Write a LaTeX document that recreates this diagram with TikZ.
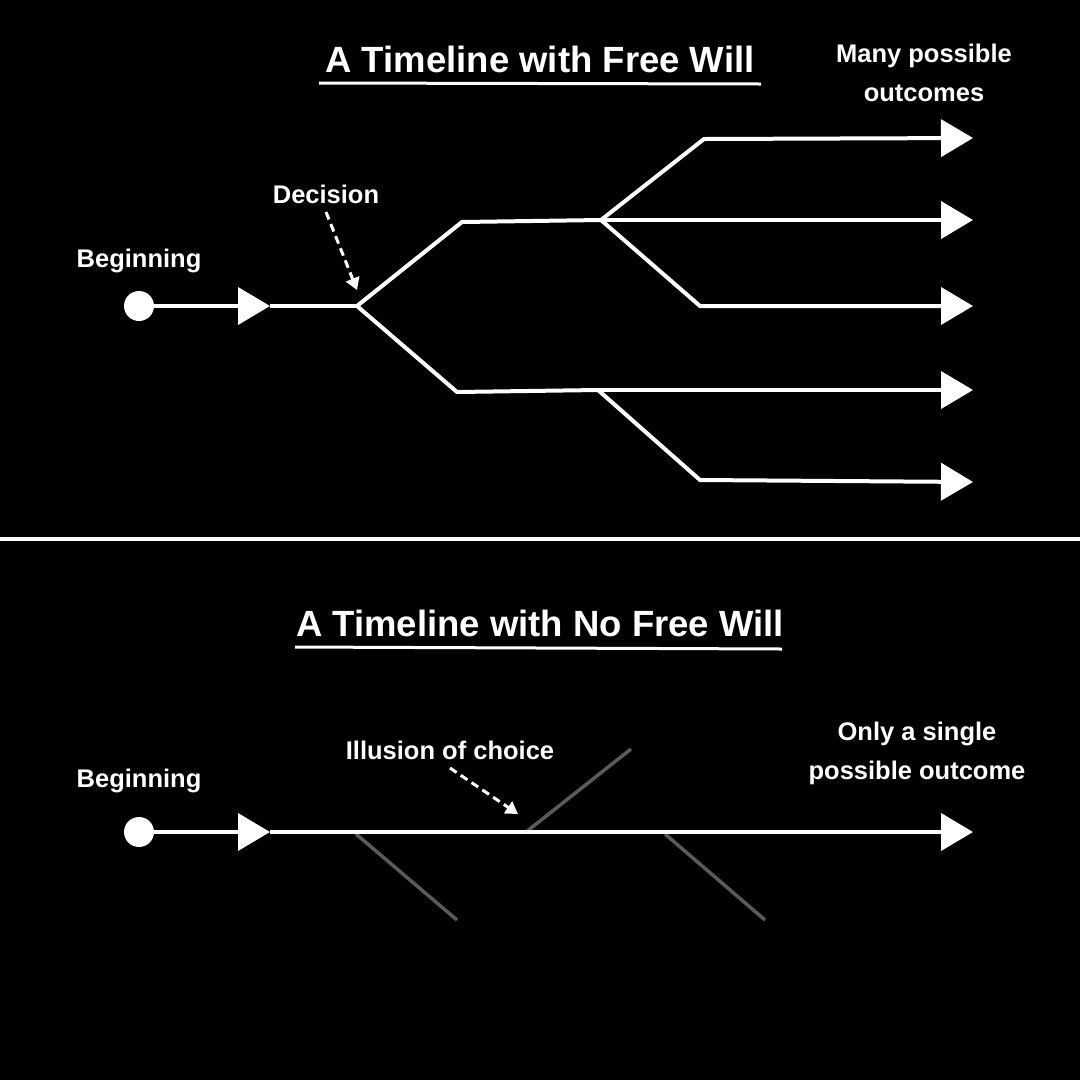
\documentclass[tikz,border=0pt]{standalone}
\usepackage{fontspec}
\setmainfont{Liberation Sans}
\usetikzlibrary{arrows.meta}
\definecolor{ghostgray}{RGB}{90,90,90}
\begin{document}
\begin{tikzpicture}[x=1pt,y=-1pt,
  line/.style={white, line width=4pt},
  bigtip/.style={-{Triangle[length=32pt,width=37pt]}},
  lbl/.style={text=white, font=\bfseries\fontsize{25.5}{39}\selectfont, anchor=base, inner sep=0pt, align=center},
  ttl/.style={text=white, font=\bfseries\fontsize{36.5}{40}\selectfont, anchor=base, inner sep=0pt},
  uline/.style={white, line width=3pt},
  dasharrow/.style={white, line width=3pt, dash pattern=on 8pt off 5pt, -{Triangle[length=12pt,width=14pt]}},
  ghost/.style={ghostgray, line width=3.5pt},
  dot/.style={circle, fill=white, minimum size=30pt, inner sep=0pt}
]
\fill[black] (0,0) rectangle (1080,1080);
\useasboundingbox (0,0) rectangle (1080,1080);

% ---------- top: free will ----------
\node[ttl] (t1) at (540,72) {A Timeline with Free Will};
\coordinate (u1a) at (319,83);
\coordinate (u1b) at (761,84);
\draw[uline] (u1a) -- (u1b);

\node[lbl] (many) at (924,101) {Many possible\\outcomes};
\node[lbl] (dec) at (326,203) {Decision};
\node[lbl] (beg1) at (139,267) {Beginning};

\node[dot] (c1) at (139,306) {};
\coordinate (a1) at (270,306);
\coordinate (d1) at (357,306);
\coordinate (up1) at (462,222);
\coordinate (d2) at (601,220);
\coordinate (lo1) at (457,392);
\coordinate (d3) at (598,390);
\coordinate (up2) at (704,139);
\coordinate (lo2) at (700,306);
\coordinate (lo3) at (700,480);
\coordinate (e1) at (973,138);
\coordinate (e2) at (973,220);
\coordinate (e3) at (973,306);
\coordinate (e4) at (973,390);
\coordinate (e5) at (973,482);
\coordinate (dt1) at (357,290);
\coordinate (ds1) at (326,212);

\draw[line, bigtip] (c1) -- (a1);
\draw[line] (a1) -- (d1);
\draw[line, line join=miter] (d1) -- (up1) -- (d2);
\draw[line, line join=miter] (d1) -- (lo1) -- (d3);
\draw[line, bigtip, line join=miter] (d2) -- (up2) -- (e1);
\draw[line, bigtip] (d2) -- (e2);
\draw[line, bigtip, line join=miter] (d2) -- (lo2) -- (e3);
\draw[line, bigtip] (d3) -- (e4);
\draw[line, bigtip, line join=miter] (d3) -- (lo3) -- (e5);
\draw[dasharrow] (ds1) -- (dt1);

% ---------- separator ----------
\coordinate (sl) at (0,539);
\coordinate (sr) at (1080,539);
\draw[white, line width=4pt] (sl) -- (sr);

% ---------- bottom: no free will ----------
\node[ttl] (t2) at (540,636) {A Timeline with No Free Will};
\coordinate (u2a) at (295,647);
\coordinate (u2b) at (782,649);
\draw[uline] (u2a) -- (u2b);

\node[lbl] (beg2) at (139,787) {Beginning};
\node[lbl] (ill) at (450,759) {Illusion of choice};
\node[lbl] (only) at (917,779) {Only a single\\possible outcome};

\coordinate (g1a) at (356,834);
\coordinate (g1b) at (457,920);
\coordinate (g2a) at (526,832);
\coordinate (g2b) at (631,749);
\coordinate (g3a) at (665,834);
\coordinate (g3b) at (765,920);
\draw[ghost] (g1a) -- (g1b);
\draw[ghost] (g2a) -- (g2b);
\draw[ghost] (g3a) -- (g3b);

\node[dot] (c2) at (139,832) {};
\coordinate (a2) at (270,832);
\coordinate (e6) at (973,832);
\draw[line, bigtip] (c2) -- (a2);
\draw[line, bigtip] (a2) -- (e6);

\coordinate (ds2) at (450,768);
\coordinate (dt2) at (518,814);
\draw[dasharrow] (ds2) -- (dt2);
\end{tikzpicture}
\end{document}
